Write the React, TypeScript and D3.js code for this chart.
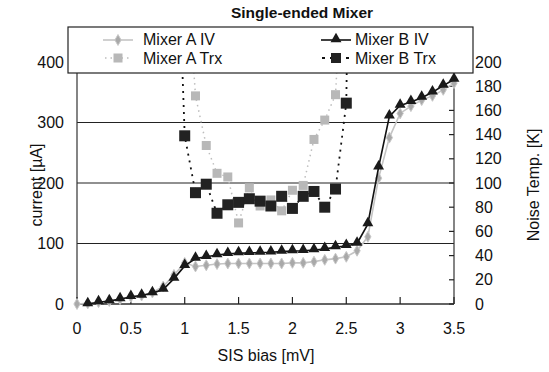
import React from "react";
import * as d3 from "d3";

const ivBias = [0,0.1,0.2,0.3,0.4,0.5,0.6,0.7,0.8,0.9,1.0,1.1,1.2,1.3,1.4,1.5,1.6,1.7,1.8,1.9,2.0,2.1,2.2,2.3,2.4,2.5,2.6,2.7,2.8,2.9,3.0,3.1,3.2,3.3,3.4,3.5];
const mixerAIV = [0,1,3,5,8,12,14,19,29,48,68,62,64,66,67,67,67,67,67,67,68,68,70,73,75,78,88,111,208,275,315,327,337,344,354,365];
const mixerBIV = [null,0,3,5,8,12,14,18,24,42,63,75,78,81,83,84,84.5,85,85.5,86.5,87.6,88,89,91,94,96,100,132,226,310,328,334,341,350,361,371];

const trxBias = [0.9,1.0,1.1,1.2,1.3,1.4,1.5,1.6,1.7,1.8,1.9,2.0,2.1,2.2,2.3,2.4,2.5,2.6];
const mixerATrx = [null,305,172,131,108,105,67,96,81,86,77,94,98,136,152,173,340,null];
const mixerBTrx = [390,139,92,99,75,82,84,87,85,81,89,79,89,93,80,95,166,800];

const xTicks = [0,0.5,1,1.5,2,2.5,3,3.5];
const xTickLabels = ["0","0.5","1","1.5","2","2.5","3","3.5"];
const leftTicks = [0,100,200,300,400];
const rightTicks = [0,20,40,60,80,100,120,140,160,180,200];

const FONT = "'Liberation Sans', Arial, Helvetica, sans-serif";

export default function App() {
  const W = 549, H = 372;
  const X0 = 77, X1 = 454, Y0 = 304, Y1 = 62;
  const x = d3.scaleLinear().domain([0, 3.5]).range([X0, X1]);
  const yL = d3.scaleLinear().domain([0, 400]).range([Y0, Y1]);
  const yR = d3.scaleLinear().domain([0, 200]).range([Y0, Y1]);

  type D = { b: number; v: number };
  const mk = (bs: number[], vs: (number | null)[]): D[] =>
    bs.map((b, i) => ({ b, v: vs[i] as number })).filter(d => d.v !== null);
  const aIV = mk(ivBias, mixerAIV);
  const bIV = mk(ivBias, mixerBIV);
  const aT = mk(trxBias, mixerATrx);
  const bT = mk(trxBias, mixerBTrx);

  const lineL = d3.line<D>().x(d => x(d.b)).y(d => yL(d.v));
  const lineR = d3.line<D>().x(d => x(d.b)).y(d => yR(d.v));

  const tri = d3.symbol().type(d3.symbolTriangle).size(52)() as string;
  const dia = d3.symbol().type(d3.symbolDiamond).size(34)() as string;

  const inPlot = (v: number) => yR(v) >= Y1 - 4;

  return (
    <svg width={W} height={H} style={{ position: "absolute", left: 0, top: 0, background: "#fff" }} fontFamily={FONT}>
      <defs>
        <clipPath id="plotClip"><rect x={X0 - 8} y={Y1} width={X1 - X0 + 16} height={Y0 - Y1 + 10} /></clipPath>
      </defs>
      <rect width={W} height={H} fill="#fff" />
      {leftTicks.map(t => (
        <line key={"g" + t} x1={X0} x2={X1} y1={yL(t)} y2={yL(t)} stroke="#222" strokeWidth={1.2} />
      ))}
      <line x1={X0} x2={X0} y1={Y1} y2={Y0} stroke="#333" strokeWidth={1.2} />
      <line x1={X1} x2={X1} y1={Y1} y2={Y0} stroke="#333" strokeWidth={1.2} />
      <line x1={X0} x2={X1} y1={Y0} y2={Y0} stroke="#555" strokeWidth={1.5} />
      {xTicks.map(t => (
        <line key={"xt" + t} x1={x(t)} x2={x(t)} y1={Y0} y2={Y0 - 7} stroke="#222" strokeWidth={1.2} />
      ))}
      {rightTicks.map(t => (
        <line key={"rt" + t} x1={X1} x2={X1 - 5} y1={yR(t)} y2={yR(t)} stroke="#222" strokeWidth={1.2} />
      ))}
      {leftTicks.map(t => (
        <text key={"lt" + t} x={64} y={yL(t)} dy="0.35em" textAnchor="end" fontSize={16} fill="#111">{t}</text>
      ))}
      {rightTicks.map(t => (
        <text key={"rl" + t} x={475} y={yR(t)} dy="0.35em" textAnchor="start" fontSize={16} fill="#111">{t}</text>
      ))}
      {xTicks.map((t, i) => (
        <text key={"xl" + t} x={x(t)} y={334} textAnchor="middle" fontSize={16} fill="#111">{xTickLabels[i]}</text>
      ))}
      <text x={266} y={361} textAnchor="middle" fontSize={16} fill="#111">SIS bias [mV]</text>
      <text transform="translate(42,185) rotate(-90)" textAnchor="middle" fontSize={16} fill="#111">current [µA]</text>
      <text transform="translate(539,185) rotate(-90)" textAnchor="middle" fontSize={16} fill="#111">Noise Temp. [K]</text>

      <g clipPath="url(#plotClip)">
        <path d={lineR(aT) || ""} fill="none" stroke="#bdbdbd" strokeWidth={1.5} strokeDasharray="1.5,4" />
        <path d={lineR(bT) || ""} fill="none" stroke="#111" strokeWidth={1.8} strokeDasharray="2,5" />
        {aT.filter(d => inPlot(d.v)).map((d, i) => (
          <rect key={"as" + i} x={x(d.b) - 4.5} y={yR(d.v) - 4.5} width={9} height={9} fill="#b8b8b8" />
        ))}
        {bT.filter(d => inPlot(d.v)).map((d, i) => (
          <rect key={"bs" + i} x={x(d.b) - 5.5} y={yR(d.v) - 5.5} width={11} height={11} fill="#222" />
        ))}
        <path d={lineL(aIV) || ""} fill="none" stroke="#c4c4c4" strokeWidth={1.6} />
        {aIV.map((d, i) => (
          <path key={"ad" + i} d={dia} transform={`translate(${x(d.b)},${yL(d.v)})`} fill="#a9a9a9" stroke="#c8c8c8" strokeWidth={1} />
        ))}
        <path d={lineL(bIV) || ""} fill="none" stroke="#111" strokeWidth={1.6} />
        {bIV.map((d, i) => (
          <path key={"bt" + i} d={tri} transform={`translate(${x(d.b)},${yL(d.v) - 1})`} fill="#1a1a1a" />
        ))}
      </g>

      <text x={302} y={18} textAnchor="middle" fontSize={15.5} fontWeight="bold" fill="#111">Single-ended Mixer</text>

      <rect x={68} y={27} width={405} height={46} fill="#fff" stroke="#222" strokeWidth={1.2} />
      <line x1={103} x2={133} y1={40} y2={40} stroke="#c4c4c4" strokeWidth={1.6} />
      <path d={dia} transform="translate(118,40)" fill="#a9a9a9" stroke="#c8c8c8" strokeWidth={1} />
      <text x={143} y={45} fontSize={16} fill="#111">Mixer A IV</text>
      <line x1={105} x2={132} y1={58} y2={58} stroke="#bdbdbd" strokeWidth={1.5} strokeDasharray="1.5,4" />
      <rect x={113.5} y={53.5} width={9} height={9} fill="#b8b8b8" />
      <text x={143} y={64} fontSize={16} fill="#111">Mixer A Trx</text>
      <line x1={321} x2={351} y1={40} y2={40} stroke="#111" strokeWidth={1.6} />
      <path d={tri} transform="translate(336,39)" fill="#1a1a1a" />
      <text x={355} y={45} fontSize={16} fill="#111">Mixer B IV</text>
      <line x1={322} x2={350} y1={58} y2={58} stroke="#111" strokeWidth={1.8} strokeDasharray="3,5" />
      <rect x={331} y={53} width={10} height={10} fill="#222" />
      <text x={355} y={64} fontSize={16} fill="#111">Mixer B Trx</text>
    </svg>
  );
}
